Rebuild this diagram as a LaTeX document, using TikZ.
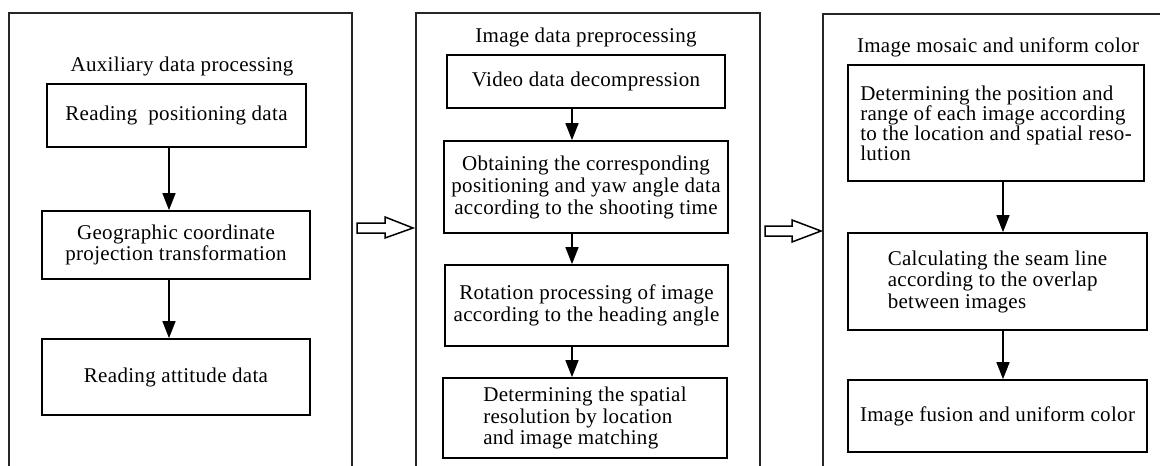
\documentclass[tikz,border=0pt]{standalone}
\usepackage{fontspec}
\setmainfont{Liberation Serif}[LetterSpace=1.5]
\usetikzlibrary{arrows.meta}
\tikzset{
  box/.style={draw, line width=1.7pt, inner sep=0pt, font=\fontsize{21}{21.5}\selectfont},
  ttl/.style={inner sep=0pt, font=\fontsize{21}{21.5}\selectfont},
  arr/.style={line width=1.5pt, -{Triangle[length=17pt,width=13pt]}},
  panel/.style={line width=1.5pt, draw=black!85},
  hollow/.style={draw, line width=1.5pt, fill=white, line join=miter}
}
\begin{document}
\begin{tikzpicture}[x=1pt,y=-1pt]
\useasboundingbox (0,0) rectangle (1160,466);
% panels
\draw[panel] (9,470) -- (9,13) -- (352,13) -- (352,470);
\draw[panel] (416,470) -- (416,13) -- (760,13) -- (760,470);
\draw[panel] (823,470) -- (823,14) -- (1165,14);
% titles
\node[ttl] (t1) at (182,66) {Auxiliary data processing};
\node[ttl] (t2) at (586,37) {Image data preprocessing};
\node[ttl] (t3) at (998,47) {Image mosaic and uniform color};
% panel 1
\node[box, minimum width=259pt, minimum height=63pt, align=center] (a1) at (176.5,115.5) {Reading\ \ positioning data};
\node[box, minimum width=268pt, minimum height=68pt, align=center] (a2) at (176,245) {Geographic coordinate\\projection transformation};
\node[box, minimum width=268pt, minimum height=76pt, align=center] (a3) at (176,377) {Reading attitude data};
\coordinate (ax) at (169,0);
\draw[arr] (a1.south -| ax) -- (a2.north -| ax);
\draw[arr] (a2.south -| ax) -- (a3.north -| ax);
% panel 2
\node[box, minimum width=278pt, minimum height=53pt, align=center] (b1) at (586,81.5) {Video data decompression};
\node[box, minimum width=284pt, minimum height=92pt, align=center, font=\fontsize{21}{22}\selectfont] (b2) at (586,187) {Obtaining the corresponding\\positioning and yaw angle data\\according to the shooting time};
\node[box, minimum width=283pt, minimum height=81pt, align=center] (b3) at (586.5,305.5) {Rotation processing of image\\according to the heading angle};
\node[box, minimum width=284pt, minimum height=80pt, align=left] (b4) at (585,418) {Determining the spatial\\resolution by location\\and image matching};
\coordinate (bx) at (572,0);
\draw[arr] (b1.south -| bx) -- (b2.north -| bx);
\draw[arr] (b2.south -| bx) -- (b3.north -| bx);
\draw[arr] (b3.south -| bx) -- (b4.north -| bx);
% panel 3
\node[box, minimum width=296pt, minimum height=116pt, align=left, font=\fontsize{21}{20}\selectfont] (c1) at (996,123) {Determining the position and\\range of each image according\\to the location and spatial reso-\\lution};
\node[box, minimum width=299pt, minimum height=97pt, align=left] (c2) at (997.5,281.5) {Calculating the seam line\\according to the overlap\\between images};
\node[box, minimum width=299pt, minimum height=72pt, align=center] (c3) at (997.5,416) {Image fusion and uniform color};
\coordinate (cx) at (1003,0);
\draw[arr] (c1.south -| cx) -- (c2.north -| cx);
\draw[arr] (c2.south -| cx) -- (c3.north -| cx);
% hollow arrows between panels
\draw[hollow] (357,223) -- (385,223) -- (385,217) -- (413,228) -- (385,238) -- (385,233) -- (357,233) -- cycle;
\draw[hollow] (765,226) -- (792,226) -- (792,220) -- (821,231) -- (792,242) -- (792,236) -- (765,236) -- cycle;
\end{tikzpicture}
\end{document}
